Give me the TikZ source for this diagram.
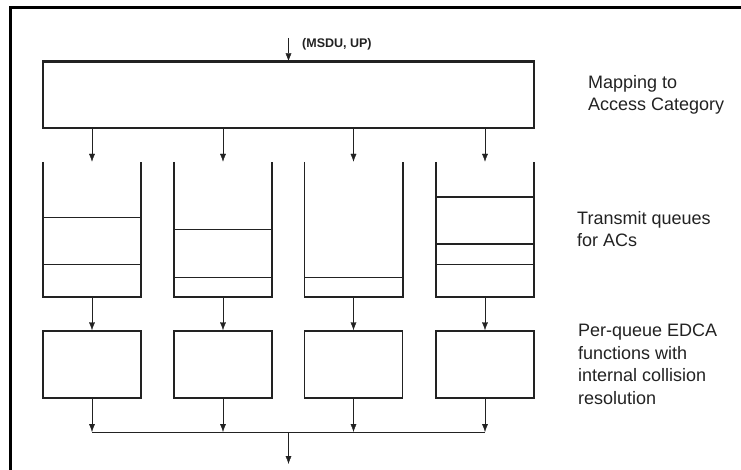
\documentclass[tikz,border=0pt]{standalone}
\usepackage{fontspec}
\setmainfont{Liberation Sans}
\usepackage{xcolor}
\usetikzlibrary{arrows.meta,positioning,calc}
\definecolor{Ink}{HTML}{222222}

\tikzset{
  box/.style={draw=Ink,line width=1.4pt,inner sep=0pt,minimum width=98pt},
  queue/.style={draw=Ink,line width=1.6pt},
  level/.style={draw=Ink,line width=0.9pt},
  note/.style={align=left,anchor=north west,inner sep=0pt,text=Ink,font=\fontsize{18}{22.5}\selectfont},
}

\begin{document}
\begin{tikzpicture}[x=1pt,y=-1pt,>={Latex[length=8pt,width=6pt]},line join=miter]
  \useasboundingbox (0,0) rectangle (741,470);
  \draw[line width=3pt] (10,470) -- (10,8) -- (741,8);
  % mapping stage
  \node[box,minimum width=491pt,minimum height=66pt] (map) at (288.5,95) {};
  \draw[line width=2.4pt,Ink] (map.north west) -- (map.north east);
  \coordinate (in) at (288.5,38);
  \draw[->,Ink] (in) -- (map.north);
  \node[anchor=west,inner sep=0pt,font=\bfseries\fontsize{12.5}{14}\selectfont,text=Ink] (msdu) at (302,44) {(MSDU, UP)};
  % queues and EDCA functions
  \coordinate (bus) at (288.5,432);
  \coordinate (out) at (288.5,464);
  \foreach \i/\x in {1/92,2/223,3/353.5,4/485}{
    \node[inner sep=0pt,minimum width=98pt,minimum height=135pt] (q\i) at (\x,229.5) {};
    \draw[queue] (q\i.north west) -- (q\i.south west) -- (q\i.south east) -- (q\i.north east);
    \node[box,minimum height=67pt] (e\i) at (\x,364.5) {};
    \draw[->,Ink] (map.south -| q\i) -- (q\i.north);
    \draw[->,Ink] (q\i.south) -- (e\i.north);
    \draw[->,Ink] (e\i.south) -- (e\i.south |- bus);
  }
  \draw[level] (q1.west |- 0,217) -- (q1.east |- 0,217);
  \draw[level] (q1.west |- 0,264) -- (q1.east |- 0,264);
  \draw[level] (q2.west |- 0,229) -- (q2.east |- 0,229);
  \draw[level] (q2.west |- 0,277) -- (q2.east |- 0,277);
  \draw[level] (q3.west |- 0,277) -- (q3.east |- 0,277);
  \draw[queue] (q4.west |- 0,197) -- (q4.east |- 0,197);
  \draw[queue] (q4.west |- 0,244) -- (q4.east |- 0,244);
  \draw[level] (q4.west |- 0,264) -- (q4.east |- 0,264);
  \draw[Ink,line width=1pt] (e1.south |- bus) -- (e4.south |- bus);
  \draw[->,Ink] (bus) -- (out);
  % side notes
  \node[note] (lmap) at (588,75) {Mapping to\\Access Category};
  \node[note] (lque) at (577,211) {Transmit queues\\for ACs};
  \node[note] (ledca) at (578,324) {Per-queue EDCA\\functions with\\internal collision\\resolution};
\end{tikzpicture}
\end{document}
